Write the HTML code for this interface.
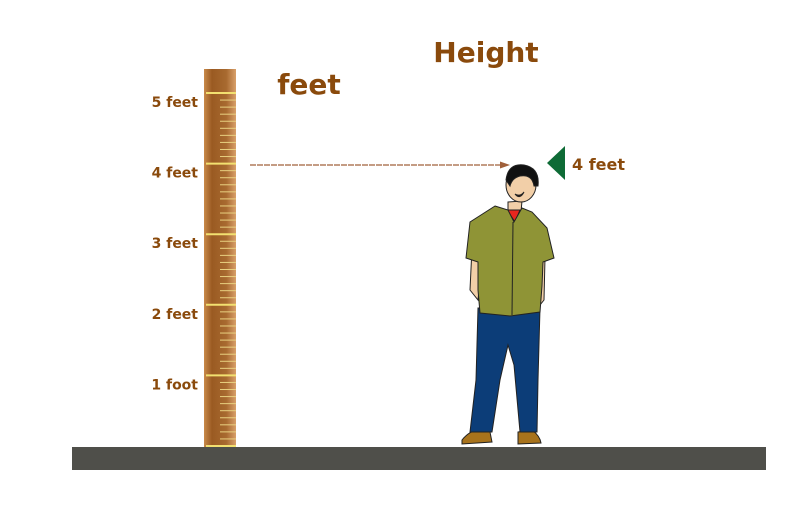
<!DOCTYPE html>
<html><head><meta charset="utf-8"><style>
html,body{margin:0;padding:0;background:#fff;}
svg{display:block;}
text{font-family:"DejaVu Sans","Liberation Sans",sans-serif;font-weight:bold;fill:#8a4a0c;}
</style></head><body>
<svg width="799" height="525" viewBox="0 0 799 525">
<defs>
<linearGradient id="wood" x1="0" x2="1" y1="0" y2="0">
<stop offset="0" stop-color="#c98a4a"/><stop offset="0.25" stop-color="#9a5a22"/><stop offset="0.7" stop-color="#a86a30"/><stop offset="1" stop-color="#d9a06a"/>
</linearGradient>
</defs>
<text x="486" y="62" font-size="28" text-anchor="middle">Height</text>
<text x="309" y="94" font-size="28" text-anchor="middle">feet</text>
<rect x="204" y="69" width="32" height="378" fill="url(#wood)"/>
<g id="ticks"></g>
<g id="labels"></g>
<rect x="72" y="447" width="694" height="23" fill="#4f4f4a"/>
<line x1="250" y1="165" x2="503" y2="165" stroke="#a0603a" stroke-width="1.2" stroke-dasharray="6 1"/>
<polygon points="510,165 500,161.5 500,168.5" fill="#a0603a"/>
<polygon points="547,163 565,146 565,180" fill="#0e6b36"/>
<text x="572" y="170" font-size="16">4 feet</text>
<g stroke="#222" stroke-width="1">
<path d="M462,440 Q470,430 480,430 L490,432 L492,442 L462,444 Z" fill="#a8731c"/>
<path d="M518,432 L532,430 Q540,436 541,443 L518,444 Z" fill="#a8731c"/>
<path d="M478,308 L540,308 L538,380 L537,432 L520,432 L514,365 L508,345 L500,380 L492,432 L470,432 L476,380 Z" fill="#0c3d78"/>
<path d="M472,248 L470,290 L478,300 L482,260 Z" fill="#f2cfa8"/>
<path d="M545,258 L544,300 L536,310 L538,262 Z" fill="#f2cfa8"/>
<path d="M508,202 L522,201 L520,222 L508,220 Z" fill="#f2cfa8"/>
<path d="M507,210 L520,210 L515,222 Z" fill="#e8261e"/>
<path d="M495,206 L508,210 L514,222 L522,208 L532,212 L547,228 L554,258 L543,262 L542,286 L540,312 L510,316 L480,313 L478,290 L478,262 L466,258 L470,222 Z" fill="#8f9436"/>
<path d="M513,222 L512,315" fill="none"/>
<ellipse cx="521" cy="185" rx="15" ry="17" fill="#f2cfa8"/>
<path d="M506,180 Q508,163 524,165 Q540,168 538,186 L534,186 Q532,174 520,176 Q512,178 510,186 Z" fill="#111"/>
<path d="M515,194 Q520,197 524,192 Q520,200 515,194 Z" fill="#3a1a10"/>
</g>
</svg>
<script>
const tickValues=[0,1,2,3,4,5];
const tickLabels=["","1 foot","2 feet","3 feet","4 feet","5 feet"];
const minorPerFoot=10;
function yScale(v){return 446-v*70.6;}
const tg=document.getElementById('ticks'),lg=document.getElementById('labels');
const NS='http://www.w3.org/2000/svg';
for(let i=0;i<tickValues.length;i++){
  const v=tickValues[i];
  const l=document.createElementNS(NS,'line');
  l.setAttribute('x1',206);l.setAttribute('x2',236);
  l.setAttribute('y1',yScale(v));l.setAttribute('y2',yScale(v));
  l.setAttribute('stroke','#f2e070');l.setAttribute('stroke-width',2);
  
  
  tg.appendChild(l);
  if(tickLabels[i]){
    const t=document.createElementNS(NS,'text');
    t.setAttribute('x',198);t.setAttribute('y',yScale(v)+14);
    t.setAttribute('text-anchor','end');t.setAttribute('font-size','14');
    t.textContent=tickLabels[i];
    
    
    lg.appendChild(t);
  }
  if(v<5){
    for(let k=1;k<minorPerFoot;k++){
      const y=yScale(v+k/minorPerFoot);
      const m=document.createElementNS(NS,'line');
      m.setAttribute('x1',220);m.setAttribute('x2',236);
      m.setAttribute('y1',y);m.setAttribute('y2',y);
      m.setAttribute('stroke','#e8d080');m.setAttribute('stroke-width',1);
      
      
      tg.appendChild(m);
    }
  }
}
</script>
</body></html>
